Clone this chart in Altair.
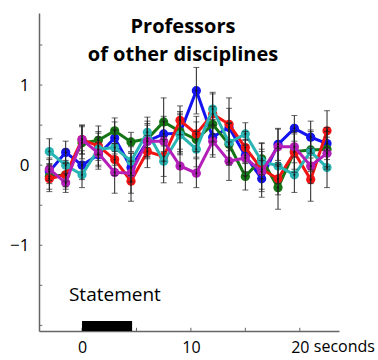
import altair as alt
import pandas as pd

# time points (seconds)
t = [-3, -1.5, 0, 1.5, 3, 4.5, 6, 7.5, 9, 10.5, 12, 13.5, 15, 16.5, 18, 19.5, 21, 22.5]

series_names = ["blue", "green", "red", "cyan", "magenta"]
series_colors = ["#1414f0", "#137513", "#f01414", "#2ab4b4", "#b41eb9"]

blue = [-0.08, 0.16, 0.00, 0.13, 0.34, -0.03, 0.30, 0.39, 0.40, 0.93, 0.35, 0.47, 0.12, -0.17, 0.26, 0.46, 0.35, 0.27]
green = [-0.14, -0.12, 0.28, 0.31, 0.43, 0.29, 0.33, 0.54, 0.42, 0.32, 0.51, 0.26, -0.14, 0.08, -0.28, 0.17, 0.19, 0.20]
red = [-0.17, -0.12, 0.32, 0.24, 0.07, -0.20, 0.17, 0.11, 0.56, 0.39, 0.64, 0.51, 0.22, -0.05, -0.17, 0.16, -0.18, 0.43]
cyan = [0.17, 0.00, -0.12, 0.20, 0.22, 0.05, 0.41, 0.05, 0.38, 0.20, 0.70, 0.28, 0.39, 0.05, -0.01, -0.12, 0.17, -0.03]
magenta = [-0.05, -0.22, 0.32, 0.15, -0.09, -0.10, 0.30, 0.30, -0.01, -0.10, 0.30, 0.05, 0.09, -0.08, 0.23, 0.23, -0.01, 0.15]

blue_err = [0.15, 0.14, 0.18, 0.15, 0.20, 0.18, 0.20, 0.22, 0.25, 0.29, 0.22, 0.24, 0.20, 0.23, 0.20, 0.16, 0.20, 0.20]
green_err = [0.16, 0.15, 0.20, 0.18, 0.16, 0.12, 0.22, 0.30, 0.25, 0.22, 0.22, 0.26, 0.17, 0.20, 0.27, 0.22, 0.25, 0.22]
red_err = [0.16, 0.18, 0.18, 0.18, 0.20, 0.25, 0.20, 0.25, 0.18, 0.22, 0.25, 0.33, 0.20, 0.25, 0.20, 0.25, 0.27, 0.25]
cyan_err = [0.16, 0.20, 0.16, 0.20, 0.22, 0.18, 0.19, 0.27, 0.25, 0.22, 0.21, 0.25, 0.14, 0.22, 0.22, 0.22, 0.25, 0.25]
magenta_err = [0.14, 0.12, 0.18, 0.20, 0.26, 0.25, 0.22, 0.25, 0.21, 0.18, 0.20, 0.24, 0.22, 0.25, 0.22, 0.20, 0.22, 0.20]

y_minor_ticks = [-2, -1.5, -1, -0.5, 0, 0.5, 1, 1.5]
x_minor_ticks = [0, 5, 10, 15, 20]

stim_start = [0]
stim_end = [4.6]
stim_label = "Statement"

title_lines = ["Professors", "of other disciplines"]

X_MIN, X_MAX = -3.95, 23.6
Y_MIN, Y_MAX = -2.07, 1.9

values = [blue, green, red, cyan, magenta]
errs = [blue_err, green_err, red_err, cyan_err, magenta_err]

rows = []
for name, vals, es in zip(series_names, values, errs):
    for ti, v, e in zip(t, vals, es):
        rows.append(dict(t=ti, v=v, lo=v - e, hi=v + e, s=name))
df = pd.DataFrame(rows)

FONT = "Open Sans"
AX = "#666666"

xs = alt.Scale(domain=[X_MIN, X_MAX], nice=False, zero=False)
ys = alt.Scale(domain=[Y_MIN, Y_MAX], nice=False, zero=False)
xax = alt.Axis(values=[0, 10, 20], ticks=False, tickSize=0, grid=False, domainColor=AX, domainWidth=1.5,
               labelFont=FONT, labelFontSize=16, labelColor="black", labelPadding=8,
               labelFlush=False, title=None, format="d")
yax = alt.Axis(values=[-1, 0, 1], ticks=False, tickSize=0, grid=False, domainColor=AX, domainWidth=1.5,
               labelFont=FONT, labelFontSize=17, labelColor="black", labelPadding=10,
               title=None, format="d")


def X(field):
    return alt.X(field, type="quantitative", scale=xs, axis=xax)


def Y(field):
    return alt.Y(field, type="quantitative", scale=ys, axis=yax)


color = alt.Color("s:N", scale=alt.Scale(domain=series_names, range=series_colors), legend=None)

layers = []

# inward minor ticks on y axis
ytick_df = pd.DataFrame({"y": y_minor_ticks})
layers.append(alt.Chart(ytick_df).mark_rule(color=AX, strokeWidth=1).encode(
    y=Y("y"),
    x=alt.XDatum(X_MIN, type="quantitative", scale=xs, axis=xax),
    x2=alt.X2Datum(X_MIN + 0.3),
))
# inward minor ticks on x axis
xtick_df = pd.DataFrame({"x": x_minor_ticks})
layers.append(alt.Chart(xtick_df).mark_rule(color=AX, strokeWidth=1).encode(
    x=X("x"),
    y=alt.YDatum(Y_MIN, type="quantitative", scale=ys, axis=yax),
    y2=alt.Y2Datum(Y_MIN + 0.04),
))

# stimulus bar
stim_df = pd.DataFrame({"a": stim_start, "b": stim_end})
layers.append(alt.Chart(stim_df).mark_rect(color="black").encode(
    x=X("a"), x2="b",
    y=alt.YDatum(Y_MIN, type="quantitative", scale=ys, axis=yax),
    y2=alt.Y2Datum(-1.945),
))
layers.append(alt.Chart(pd.DataFrame({"txt": [stim_label]})).mark_text(
    font=FONT, fontSize=19, align="left", baseline="alphabetic", color="black").encode(
    x=alt.XDatum(-1.2, type="quantitative", scale=xs, axis=xax),
    y=alt.YDatum(-1.70, type="quantitative", scale=ys, axis=yax),
    text="txt:N",
))

# series: line + dots
for name in series_names:
    sub = df[df.s == name]
    base = alt.Chart(sub).encode(x=X("t"), y=Y("v"), color=color)
    layers.append(base.mark_line(strokeWidth=3))
    layers.append(base.mark_point(filled=True, size=85, opacity=1))

# error bars
eb = alt.Chart(df).encode(x=X("t"))
layers.append(eb.mark_rule(color="#222222", strokeWidth=1).encode(y=Y("lo"), y2="hi"))
layers.append(eb.mark_tick(orient="horizontal", color="#222222", size=6, thickness=1).encode(y=Y("lo")))
layers.append(eb.mark_tick(orient="horizontal", color="#222222", size=6, thickness=1).encode(y=Y("hi")))
layers.append(eb.mark_point(filled=True, size=4, color="#111111", opacity=1).encode(y=Y("v")))

# "seconds" after the 20 label
layers.append(alt.Chart(pd.DataFrame({"txt": ["seconds"]})).mark_text(
    font=FONT, fontSize=16, align="left", baseline="top", color="black", dx=14).encode(
    x=alt.XDatum(20, type="quantitative", scale=xs, axis=xax),
    y=alt.value(318 + 8),
    text="txt:N",
))

chart = alt.layer(*layers).properties(
    width=300, height=318,
    autosize=alt.AutoSizeParams(type="none"),
    padding={"left": 39, "top": 13, "right": 39, "bottom": 29},
    title=alt.Title(title_lines, font=FONT, fontSize=20, fontWeight="bold", color="black",
                    anchor="middle", lineHeight=28, offset=-52, dx=-6),
).configure_view(stroke=None).configure_axis(domainCap="butt")

chart.save("out.html", embed_options={"renderer": "svg", "actions": False})
